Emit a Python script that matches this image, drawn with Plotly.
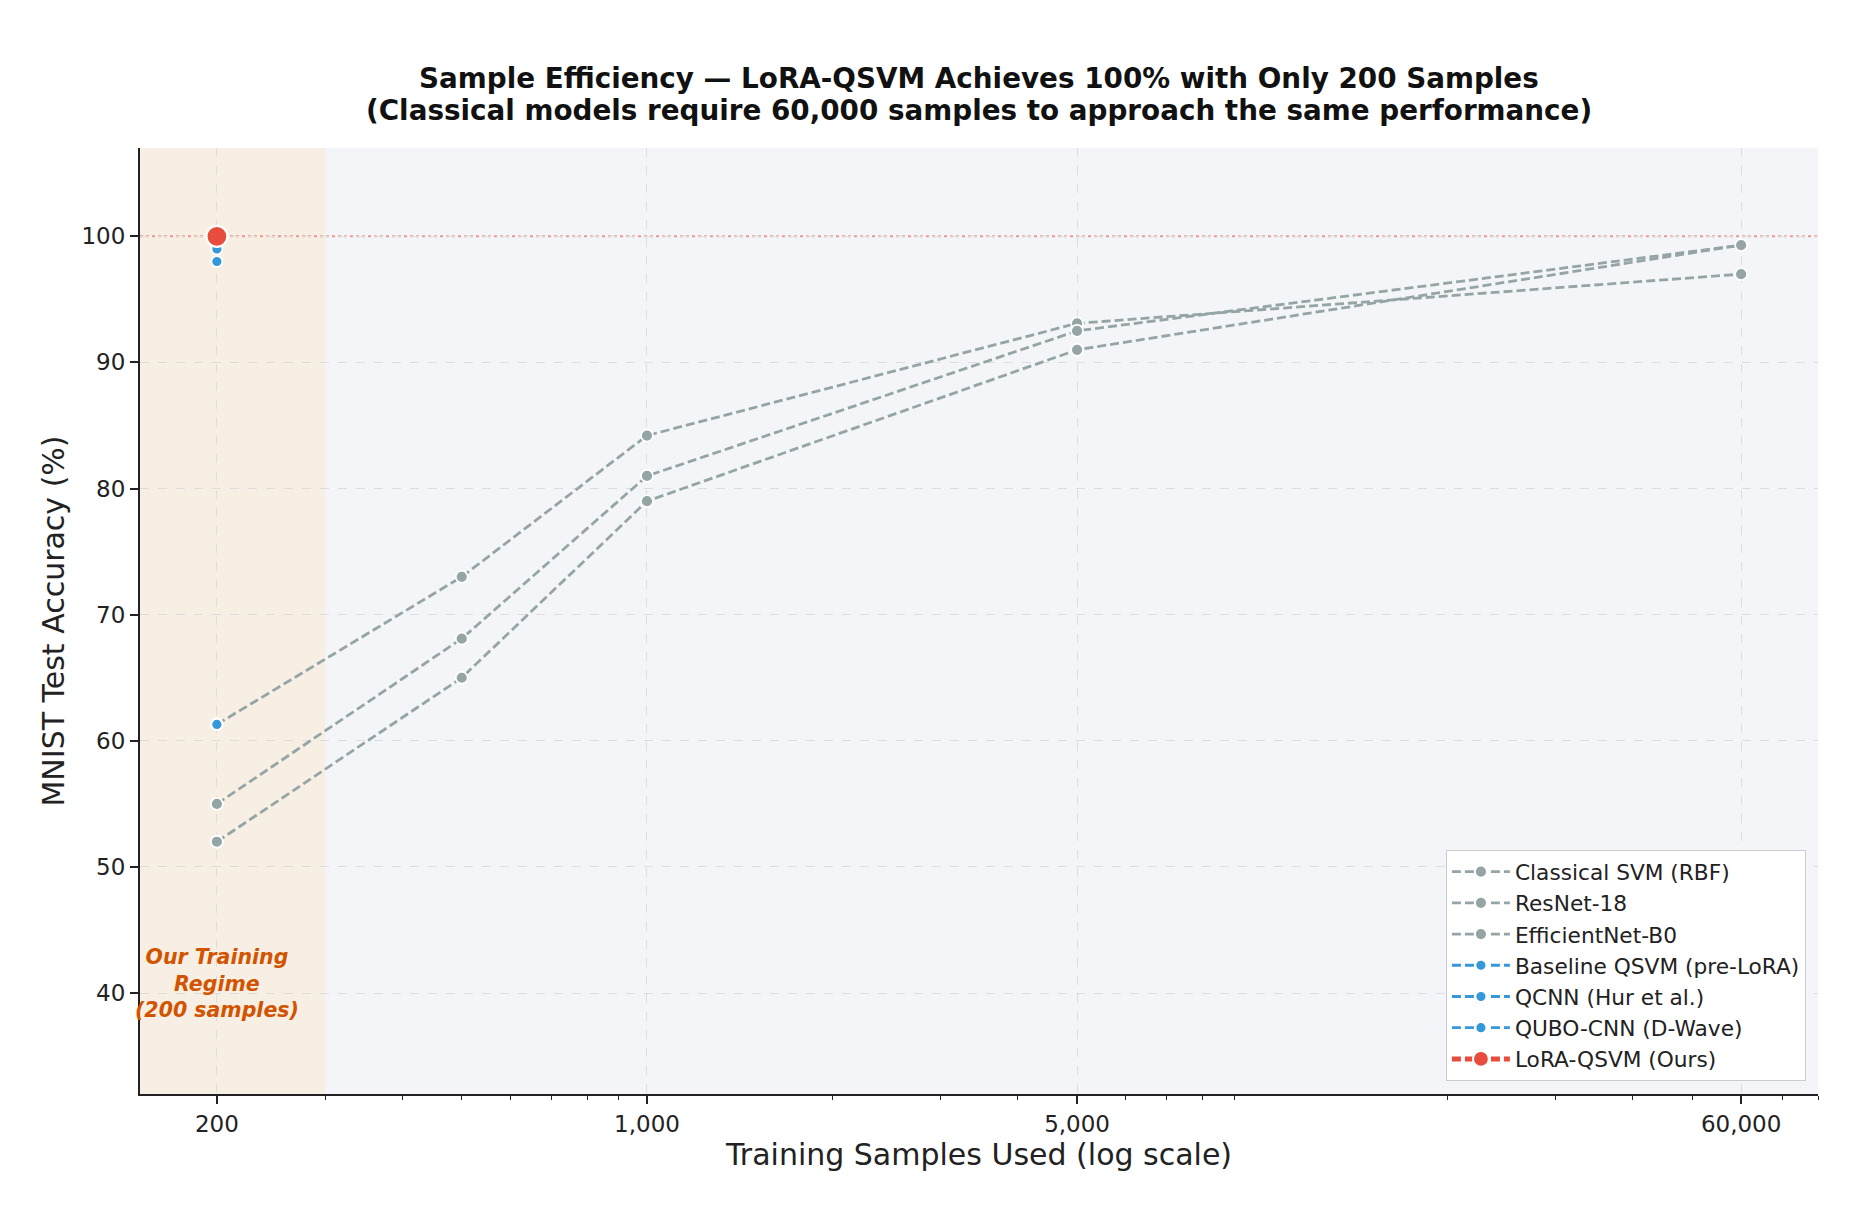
import math
import plotly.graph_objects as go

# ---------------- data ----------------
samples = [200, 500, 1000, 5000, 60000]
classical_svm = [61.3, 73.0, 84.2, 93.1, 97.0]
resnet18 = [55.0, 68.1, 81.0, 92.5, 99.3]
efficientnet_b0 = [52.0, 65.0, 79.0, 91.0, 99.3]

quantum_samples = [200]
baseline_qsvm = [61.3]
qcnn = [98.0]
qubo_cnn = [99.0]
lora_qsvm = [100.0]

x_tickvals = [200, 1000, 5000, 60000]
x_ticktext = ["200", "1,000", "5,000", "60,000"]
x_minor = [300, 400, 500, 600, 700, 800, 900, 2000, 3000, 4000, 6000, 7000,
           8000, 9000, 20000, 30000, 40000, 50000, 70000, 80000]
y_tickvals = [40, 50, 60, 70, 80, 90, 100]

title_lines = ["Sample Efficiency — LoRA-QSVM Achieves 100% with Only 200 Samples",
               "(Classical models require 60,000 samples to approach the same performance)"]

GRAY = "#95a5a6"
BLUE = "#3498db"
RED = "#e74c3c"
FONT = "DejaVu Sans"

fig = go.Figure()

classical = [("Classical SVM (RBF)", classical_svm),
             ("ResNet-18", resnet18),
             ("EfficientNet-B0", efficientnet_b0)]
for name, vals in classical:
    fig.add_trace(go.Scatter(
        x=samples, y=vals, name=name, mode="lines+markers",
        line=dict(color=GRAY, width=2.8, dash="9px,4px"),
        marker=dict(size=12, color=GRAY, line=dict(color="white", width=1.8)),
    ))

quantum = [("Baseline QSVM (pre-LoRA)", baseline_qsvm),
           ("QCNN (Hur et al.)", qcnn),
           ("QUBO-CNN (D-Wave)", qubo_cnn)]
for name, vals in quantum:
    fig.add_trace(go.Scatter(
        x=quantum_samples, y=vals, name=name, mode="lines+markers",
        line=dict(color=BLUE, width=2.8, dash="9px,4px"),
        marker=dict(size=11, color=BLUE, line=dict(color="white", width=1.8)),
    ))

fig.add_trace(go.Scatter(
    x=quantum_samples, y=lora_qsvm, name="LoRA-QSVM (Ours)", mode="lines+markers",
    line=dict(color=RED, width=5, dash="9px,4px"),
    marker=dict(size=21, color=RED, line=dict(color="white", width=2.2)),
))

# shaded training regime
fig.add_shape(type="rect", xref="x", yref="paper", x0=150, x1=300, y0=0, y1=1,
              fillcolor="#f8efe4", line=dict(width=0), layer="below")
# 100% reference line
fig.add_shape(type="line", xref="paper", yref="y", x0=0, x1=1, y0=100, y1=100,
              line=dict(color="rgba(231,76,60,0.55)", width=2, dash="dot"),
              layer="between")

fig.add_annotation(
    x=math.log10(200), y=40.8, xref="x", yref="y",
    text="<b><i>Our Training<br>Regime<br>(200 samples)</i></b>",
    showarrow=False, font=dict(family=FONT, size=20.5, color="#d35400"),
    align="center",
)

# two-line title
for line_text, ypix in zip(title_lines, [79, 110]):
    fig.add_annotation(
        x=0.5, xref="paper", y=(1094 - ypix) / 946, yref="paper",
        xanchor="center", yanchor="middle", showarrow=False,
        text="<b>" + line_text + "</b>",
        font=dict(family=FONT, size=27.8, color="#111111"),
    )

fig.update_layout(
    width=1873, height=1226,
    margin=dict(l=140, r=55, t=148, b=132),
    paper_bgcolor="white", plot_bgcolor="#f4f5f9",
    font=dict(family=FONT, color="#222222", size=23),
    legend=dict(
        x=0.9928, y=0.0137, xanchor="right", yanchor="bottom",
        bgcolor="white", bordercolor="#cccccc", borderwidth=1,
        font=dict(family=FONT, size=21.7, color="#222222"),
        itemwidth=58,
    ),
    showlegend=True,
)

fig.update_xaxes(
    type="log", range=[math.log10(150), math.log10(80000)],
    tickmode="array", tickvals=x_tickvals, ticktext=x_ticktext,
    ticks="outside", ticklen=8, tickwidth=1.5, tickcolor="#222222",
    showline=True, linecolor="#222222", linewidth=2, mirror=False,
    showgrid=True, gridcolor="#dddddd", gridwidth=1, griddash="dash",
    zeroline=False,
    minor=dict(tickmode="array", tickvals=x_minor, ticks="outside", ticklen=4,
               tickwidth=1, tickcolor="#222222", showgrid=False),
    tickfont=dict(size=23),
    title=dict(text="Training Samples Used (log scale)", font=dict(size=30), standoff=6),
)
fig.update_yaxes(
    range=[32, 107], tickmode="array", tickvals=y_tickvals,
    ticks="outside", ticklen=8, tickwidth=1.5, tickcolor="#222222",
    showline=True, linecolor="#222222", linewidth=2, mirror=False,
    showgrid=True, gridcolor="#dddddd", gridwidth=1, griddash="dash",
    zeroline=False, tickfont=dict(size=23),
    title=dict(text="MNIST Test Accuracy (%)", font=dict(size=30), standoff=8),
)

fig.write_html("out.html")
